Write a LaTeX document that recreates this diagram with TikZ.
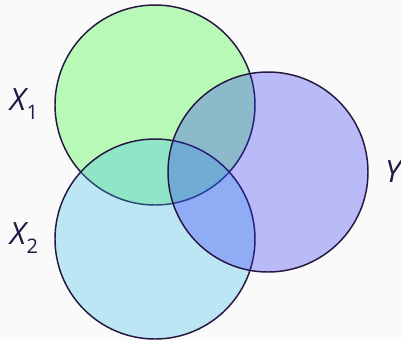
\documentclass[tikz,border=0pt]{standalone}
\usepackage{fontspec}
\setmainfont{Open Sans}
\usepackage{xcolor}
\usepackage{tikz}
\usetikzlibrary{positioning}
\definecolor{pagebg}{RGB}{250, 250, 250}
\definecolor{inkdark}{RGB}{38, 22, 66}
\definecolor{setgreen}{RGB}{38, 247, 33}
\definecolor{setblue}{RGB}{46, 186, 232}
\definecolor{setpurple}{RGB}{41, 41, 247}
\newcommand{\setlabel}[2]{\itshape #1\kern0.5pt\raisebox{-0.32em}{\upshape\fontsize{15}{15}\selectfont #2}}

\begin{document}
\begin{tikzpicture}[
    x=0.75pt, y=-0.75pt,
    setCircle/.style={circle, draw=inkdark, line width=1.1pt, fill opacity=0.3, draw opacity=1, inner sep=0pt, minimum size=150pt},
    setLabel/.style={text=inkdark, font=\fontsize{23}{23}\selectfont, inner sep=0pt, anchor=center}
]

% page
\fill[pagebg] (0,0) rectangle (401,340);
\useasboundingbox (0,0) rectangle (401,340);

% the three sets
\node[setCircle, fill=setgreen] (setX1) at (155,105) {};
\node[setCircle, fill=setblue] (setX2) at (155,239) {};
\node[setCircle, fill=setpurple] (setY) at (268,172) {};

% labels
\node[setLabel] (labX1) at (24,104) {\setlabel{X}{1}};
\node[setLabel] (labX2) at (24,238) {\setlabel{X}{2}};
\node[setLabel] (labY) at (393,172) {\itshape Y};

\end{tikzpicture}
\end{document}
